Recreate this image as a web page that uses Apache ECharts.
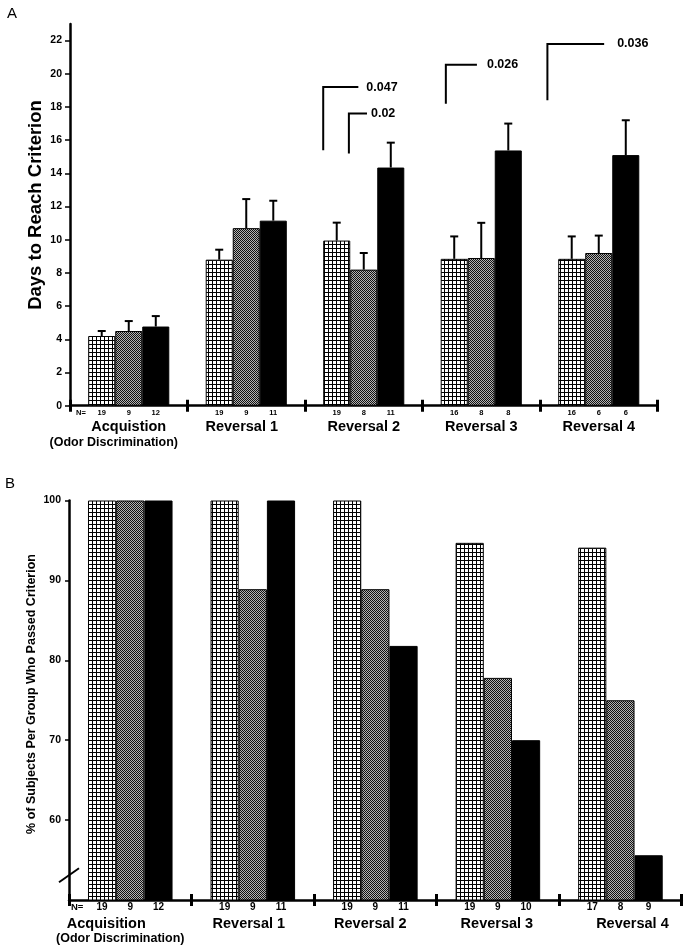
<!DOCTYPE html>
<html>
<head>
<meta charset="utf-8">
<script src="https://cdn.jsdelivr.net/npm/echarts@6/dist/echarts.min.js"></script>
<style>
html,body{margin:0;padding:0;background:#fff;}
#chart{width:688px;height:948px;}
</style>
</head>
<body>
<div id="chart"></div>
<script>
// ---------- DATA ----------
const categoriesTop = ['Acquistion', 'Reversal 1', 'Reversal 2', 'Reversal 3', 'Reversal 4'];
const categoriesBottom = ['Acquisition', 'Reversal 1', 'Reversal 2', 'Reversal 3', 'Reversal 4'];
const subLabel = '(Odor Discrimination)';

// Panel A: days to reach criterion (mean) and SEM
const daysGroup1 = [4.2, 8.8, 9.95, 8.85, 8.85];
const daysGroup2 = [4.5, 10.7, 8.2, 8.9, 9.2];
const daysGroup3 = [4.77, 11.15, 14.35, 15.38, 15.1];
const semGroup1 = [0.3, 0.6, 1.08, 1.35, 1.35];
const semGroup2 = [0.6, 1.75, 1.0, 2.12, 1.05];
const semGroup3 = [0.63, 1.2, 1.5, 1.62, 2.1];
const nTopGroup1 = [19, 19, 19, 16, 16];
const nTopGroup2 = [9, 9, 8, 8, 6];
const nTopGroup3 = [12, 11, 11, 8, 6];
const yTicksTop = [0, 2, 4, 6, 8, 10, 12, 14, 16, 18, 20, 22];

// significance brackets (panel A)
const pValues = ['0.047', '0.02', '0.026', '0.036'];
const bracketCategory = [2, 2, 3, 4];
const bracketBar = [0, 1, 0, 0];
const bracketLow = [15.4, 15.2, 18.2, 18.4];
const bracketHigh = [19.2, 17.6, 20.55, 21.8];

// Panel B: % of subjects who passed criterion
const pctGroup1 = [100, 100, 100, 94.7, 94.1];
const pctGroup2 = [100, 88.9, 88.9, 77.8, 75];
const pctGroup3 = [100, 100, 81.8, 70, 55.6];
const nBotGroup1 = [19, 19, 19, 19, 17];
const nBotGroup2 = [9, 9, 9, 9, 8];
const nBotGroup3 = [12, 11, 11, 10, 9];
const yTicksBottom = [60, 70, 80, 90, 100];

// ---------- STYLE / LAYOUT ----------
const FONT = 'Liberation Sans, Arial, Helvetica, sans-serif';
const GAP = 0.31;          // barCategoryGap
const BW = (1 - GAP) / 3;  // bar width as fraction of band

function makePattern(kind) {
  const c = document.createElement('canvas');
  const ctx = c.getContext('2d');
  if (kind === 'grid') {
    c.width = 4; c.height = 4;
    ctx.fillStyle = '#fff'; ctx.fillRect(0, 0, 4, 4);
    ctx.fillStyle = '#000';
    ctx.fillRect(0, 0, 4, 1); ctx.fillRect(0, 0, 1, 4);
  } else {
    c.width = 2; c.height = 2;
    ctx.fillStyle = '#b4b4b4'; ctx.fillRect(0, 0, 2, 2);
    ctx.fillStyle = '#111';
    ctx.fillRect(0, 0, 1, 1); ctx.fillRect(1, 1, 1, 1);
  }
  return { image: c, repeat: 'repeat' };
}
const fills = [makePattern('grid'), makePattern('dots'), '#000'];

function barSeries(name, data, nArr, idx, xi, yi, nFont) {
  return {
    name: name, type: 'bar', xAxisIndex: xi, yAxisIndex: yi,
    data: data, barGap: '0%', barCategoryGap: (GAP * 100) + '%',
    itemStyle: { color: fills[idx], borderColor: '#000', borderWidth: 1 },
    emphasis: { disabled: true },
    label: {
      show: true, position: ['50%', '100%'], offset: [0, 7],
      align: 'center', verticalAlign: 'middle',
      fontFamily: FONT, fontWeight: 'bold', fontSize: nFont, color: '#000',
      formatter: p => String(nArr[p.dataIndex])
    },
    z: 2
  };
}

const errData = [];
[[daysGroup1, semGroup1], [daysGroup2, semGroup2], [daysGroup3, semGroup3]].forEach((g, s) => {
  g[0].forEach((m, i) => errData.push([i, m, m + g[1][i], s]));
});

const bracketData = pValues.map((p, k) => [bracketCategory[k], bracketLow[k], bracketHigh[k], k]);
// bracket geometry (in bar widths relative to the bar's left edge) and text gap in px
const bracketDx = [0, -0.05, 0.19, -0.4];
const bracketLen = [1.3, 0.67, 1.15, 2.1];
const bracketTextGap = [8, 4, 10, 13];

function xAxisPair(gi, cats, labelCfg) {
  return [
    {
      gridIndex: gi, type: 'category', data: cats, position: 'bottom',
      axisLine: { lineStyle: { color: '#000', width: 2.5 } },
      axisTick: { show: true, interval: 0, length: 6, lineStyle: { color: '#000', width: 3 } },
      axisLabel: labelCfg
    },
    {
      gridIndex: gi, type: 'category', data: cats, position: 'bottom',
      axisLine: { show: false },
      axisTick: { show: true, inside: true, interval: 0, length: 6, lineStyle: { color: '#000', width: 3 } },
      axisLabel: { show: false }
    }
  ];
}

function richLabel(nameShift, subShift, margin) {
  const rich = {
    s: { fontFamily: FONT, fontWeight: 'bold', fontSize: 12.5, lineHeight: 13, color: '#000', padding: [0, Math.max(0, -subShift) * 2, 0, Math.max(0, subShift) * 2] }
  };
  nameShift.forEach((sh, i) => {
    rich['n' + i] = { fontFamily: FONT, fontWeight: 'bold', fontSize: 14.5, lineHeight: 17, color: '#000',
      padding: [0, Math.max(0, -sh) * 2, 0, Math.max(0, sh) * 2] };
  });
  return {
    interval: 0, margin: margin, color: '#000',
    formatter: (v, i) => i === 0 ? '{n0|' + v + '}\n{s|' + subLabel + '}' : '{n' + i + '|' + v + '}',
    rich: rich
  };
}

const chart = echarts.init(document.getElementById('chart'), null, { renderer: 'canvas' });

const option = {
  animation: false,
  backgroundColor: '#fff',
  textStyle: { fontFamily: FONT },
  grid: [
    { left: 70, right: 30.5, top: 24, bottom: 542.3 },
    { left: 69, right: 6.3, top: 500.5, bottom: 48 }
  ],
  xAxis: [].concat(
    xAxisPair(0, categoriesTop, richLabel([0, -4.5, 0, 0, 0], -15, 13)),
    xAxisPair(1, categoriesBottom, richLabel([-24, -4, -5, -1, 12], -10, 15.5))
  ),
  yAxis: [
    {
      gridIndex: 0, type: 'value', min: 0, max: 23,
      axisLine: { show: true, lineStyle: { color: '#000', width: 2.5 } },
      axisTick: { show: true, length: 5, customValues: yTicksTop, lineStyle: { color: '#000', width: 1.5 } },
      axisLabel: { customValues: yTicksTop, margin: 8, fontFamily: FONT, fontWeight: 'bold', fontSize: 10.5, color: '#000' },
      splitLine: { show: false }
    },
    {
      gridIndex: 1, type: 'value', min: 50, max: 100,
      axisLine: { show: true, lineStyle: { color: '#000', width: 2.5 } },
      axisTick: { show: true, length: 4, customValues: yTicksBottom, lineStyle: { color: '#000', width: 1.5 } },
      axisLabel: { customValues: yTicksBottom, margin: 8, fontFamily: FONT, fontWeight: 'bold', fontSize: 10.5, color: '#000' },
      splitLine: { show: false }
    }
  ],
  series: [
    barSeries('Group 1', daysGroup1, nTopGroup1, 0, 0, 0, 7.5),
    barSeries('Group 2', daysGroup2, nTopGroup2, 1, 0, 0, 7.5),
    barSeries('Group 3', daysGroup3, nTopGroup3, 2, 0, 0, 7.5),
    barSeries('Group 1 %', pctGroup1, nBotGroup1, 0, 2, 1, 10),
    barSeries('Group 2 %', pctGroup2, nBotGroup2, 1, 2, 1, 10),
    barSeries('Group 3 %', pctGroup3, nBotGroup3, 2, 2, 1, 10),
    {
      // error bars (panel A)
      type: 'custom', xAxisIndex: 0, yAxisIndex: 0, z: 3,
      data: errData, encode: { x: 0, y: [1, 2] },
      renderItem: (params, api) => {
        const cat = api.value(0), s = api.value(3);
        const band = api.size([1, 0])[0];
        const b = api.coord([cat, api.value(1)]);
        const t = api.coord([cat, api.value(2)]);
        const cx = b[0] + (s - 1) * band * BW;
        return {
          type: 'group', children: [
            { type: 'line', shape: { x1: cx, y1: b[1], x2: cx, y2: t[1] }, style: { stroke: '#000', lineWidth: 2 } },
            { type: 'line', shape: { x1: cx - 4, y1: t[1], x2: cx + 4, y2: t[1] }, style: { stroke: '#000', lineWidth: 2 } }
          ]
        };
      }
    },
    {
      // significance brackets (panel A)
      type: 'custom', xAxisIndex: 0, yAxisIndex: 0, z: 3,
      data: bracketData, encode: { x: 0, y: [1, 2] },
      renderItem: (params, api) => {
        const k = api.value(3);
        const cat = api.value(0);
        const band = api.size([1, 0])[0];
        const bw = band * BW;
        const lo = api.coord([cat, api.value(1)]);
        const hi = api.coord([cat, api.value(2)]);
        const x = lo[0] + (bracketBar[k] - 1.5) * bw + bracketDx[k] * bw;
        const x2 = x + bracketLen[k] * bw;
        return {
          type: 'group', children: [
            { type: 'polyline', shape: { points: [[x, lo[1]], [x, hi[1]], [x2, hi[1]]] }, style: { stroke: '#000', lineWidth: 2, fill: null } },
            { type: 'text', x: x2 + bracketTextGap[k], y: hi[1], style: { text: pValues[k], fontFamily: FONT, fontWeight: 'bold', fontSize: 12.5, fill: '#000', align: 'left', verticalAlign: 'middle' } }
          ]
        };
      }
    },
    {
      // "N=" label, panel A
      type: 'custom', xAxisIndex: 0, yAxisIndex: 0, z: 3,
      data: [[0, 0]],
      renderItem: (params, api) => {
        const p = api.coord([0, 0]);
        const band = api.size([1, 0])[0];
        return { type: 'text', x: p[0] - band / 2 + 6, y: p[1] + 7,
          style: { text: 'N=', fontFamily: FONT, fontWeight: 'bold', fontSize: 7.5, fill: '#000', align: 'left', verticalAlign: 'middle' } };
      }
    },
    {
      // "N=" label and axis break, panel B
      type: 'custom', xAxisIndex: 2, yAxisIndex: 1, z: 3,
      data: [[0, 50]],
      renderItem: (params, api) => {
        const p = api.coord([0, 50]);
        const band = api.size([1, 0])[0];
        const x0 = params.coordSys.x;
        const br = api.coord([0, 53.1]);
        return { type: 'group', children: [
          { type: 'text', x: p[0] - band / 2 + 2, y: p[1] + 7,
            style: { text: 'N=', fontFamily: FONT, fontWeight: 'bold', fontSize: 9.5, fill: '#000', align: 'left', verticalAlign: 'middle' } },
          { type: 'line', shape: { x1: x0 - 10, y1: br[1] + 7, x2: x0 + 10, y2: br[1] - 7 }, style: { stroke: '#000', lineWidth: 2 } }
        ] };
      }
    }
  ],
  graphic: [
    { type: 'text', left: 7, top: 6, style: { text: 'A', fontFamily: FONT, fontSize: 15, fill: '#000' } },
    { type: 'text', left: 5, top: 476, style: { text: 'B', fontFamily: FONT, fontSize: 15, fill: '#000' } },
    { type: 'text', x: 35.5, y: 205, rotation: Math.PI / 2,
      style: { text: 'Days to Reach Criterion', fontFamily: FONT, fontWeight: 'bold', fontSize: 18.5, fill: '#000', align: 'center', verticalAlign: 'middle' } },
    { type: 'text', x: 32, y: 694, rotation: Math.PI / 2,
      style: { text: '% of Subjects Per Group Who Passed Criterion', fontFamily: FONT, fontWeight: 'bold', fontSize: 12.5, fill: '#000', align: 'center', verticalAlign: 'middle' } }
  ]
};
chart.setOption(option);
</script>
</body>
</html>
